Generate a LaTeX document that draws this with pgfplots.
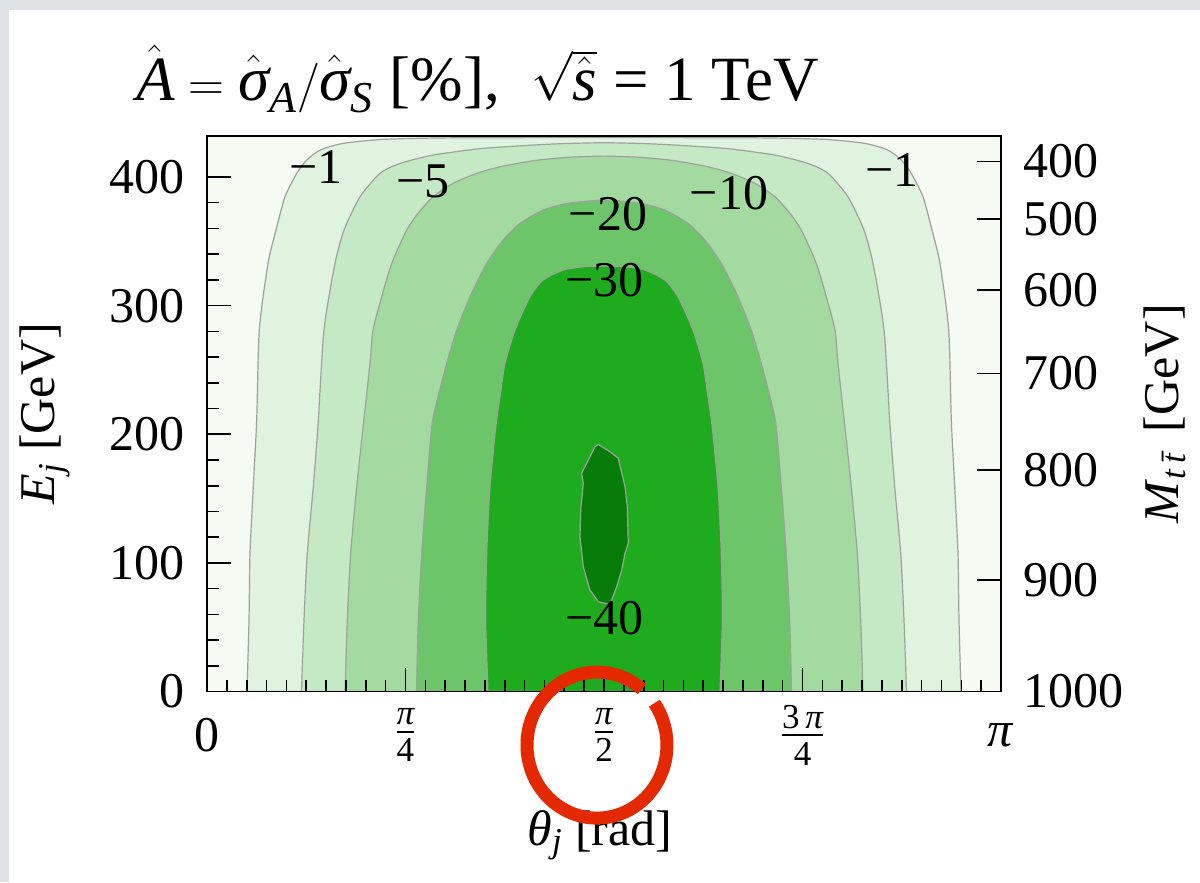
\documentclass[border=0pt]{standalone}
\usepackage{amsmath}
\usepackage{fontspec}
\setmainfont{Liberation Serif}
\usepackage{pgfplots}
\pgfplotsset{compat=1.18}

\definecolor{bgpale}{RGB}{245,250,243}
\definecolor{lvA}{RGB}{224,243,223}
\definecolor{lvB}{RGB}{198,233,197}
\definecolor{lvC}{RGB}{163,218,160}
\definecolor{lvD}{RGB}{108,197,104}
\definecolor{lvE}{RGB}{30,172,30}
\definecolor{lvF}{RGB}{8,124,8}
\definecolor{isoline}{RGB}{160,160,160}
\definecolor{pagegray}{RGB}{223,226,230}
\definecolor{markred}{RGB}{228,40,0}

\pgfplotsset{
  contour/.style={draw=isoline, line width=0.6pt, smooth, tension=0.4},
}

\begin{document}
\fontsize{25}{30}\selectfont
\begin{tikzpicture}
\useasboundingbox (-103.5pt,-95.25pt) rectangle (496.5pt,345.8pt);
\fill[pagegray] (-103.5pt,-95.25pt) rectangle (496.5pt,345.8pt);
\fill[white] (-99pt,-95.25pt) rectangle (496.5pt,340.8pt);

% main axis: E_j versus theta_j, filled contours of the asymmetry
\begin{axis}[
  at={(0,0)}, anchor=south west, scale only axis,
  width=397pt, height=277.9pt,
  xmin=0, xmax=3.14159, ymin=0, ymax=432,
  axis background/.style={fill=bgpale},
  axis on top,
  axis line style={line width=0.8pt},
  every tick/.style={line width=0.8pt, black},
  tick align=inside,
  major tick length=12pt, minor tick length=6pt,
  xtick={0,0.785398,1.570796,2.356194,3.141593},
  xticklabels={0,
    $\frac{\text{\itshape π}}{\text{4}}$,
    $\frac{\text{\itshape π}}{\text{2}}$,
    $\frac{\text{3\,\itshape π}}{\text{4}}$,
    \textit{π}},
  minor xtick={0.0785,0.1571,0.2356,0.3142,0.3927,0.4712,0.5498,0.6283,0.7069,
    0.8639,0.9425,1.0210,1.0996,1.1781,1.2566,1.3352,1.4137,1.4923,
    1.6493,1.7279,1.8064,1.8850,1.9635,2.0420,2.1206,2.1991,2.2777,
    2.4347,2.5133,2.5918,2.6704,2.7489,2.8274,2.9060,2.9845,3.0631},
  xtick pos=bottom,
  ytick={0,100,200,300,400},
  minor y tick num=4,
  ytick pos=left,
  xticklabel style={anchor=center, yshift=-21.75pt},
  yticklabel style={xshift=-2.5pt},
  /pgf/number format/assume math mode=true,
]
% A = -1
\addplot[contour, fill=lvA] coordinates {
 (0.1583,0) (0.1662,55.6) (0.1701,107.4) (0.1832,159.2) (0.1966,211.0)
 (0.2069,281.0) (0.2414,332.8) (0.2730,358.7) (0.3086,384.6) (0.3549,402.8)
 (0.3945,413.1) (0.4471,420.9) (0.5381,426.1) (0.6964,429.2) (0.9614,430.4)
 (1.5708,430.6)
 (2.1802,430.4) (2.4452,429.2) (2.6035,426.1) (2.6945,420.9) (2.7471,413.1)
 (2.7867,402.8) (2.8330,384.6) (2.8686,358.7) (2.9002,332.8) (2.9347,281.0)
 (2.9450,211.0) (2.9584,159.2) (2.9715,107.4) (2.9754,55.6) (2.9833,0)
} \closedcycle;
% A = -5
\addplot[contour, fill=lvB] coordinates {
 (0.3739,0) (0.3838,55.6) (0.3968,107.4) (0.4206,159.2) (0.4392,207.1)
 (0.4629,281.0) (0.5064,332.8) (0.5421,358.7) (0.6054,384.6) (0.6845,402.8)
 (0.7636,410.5) (0.8942,417.0) (1.0920,422.2) (1.3571,425.5) (1.5708,426.6)
 (1.7845,425.5) (2.0496,422.2) (2.2474,417.0) (2.3780,410.5) (2.4571,402.8)
 (2.5362,384.6) (2.5995,358.7) (2.6352,332.8) (2.6787,281.0) (2.7024,207.1)
 (2.7210,159.2) (2.7448,107.4) (2.7578,55.6) (2.7677,0)
} \closedcycle;
% A = -10
\addplot[contour, fill=lvC] coordinates {
 (0.5460,0) (0.5551,55.6) (0.5686,107.4) (0.5923,159.2) (0.6184,207.1)
 (0.6449,255.1) (0.6568,281.0) (0.6912,306.9) (0.7308,332.8) (0.7901,358.7)
 (0.8348,371.7) (0.8942,384.6) (0.9733,395.0) (1.0671,402.8) (1.1593,407.9)
 (1.2898,412.6) (1.4232,415.2) (1.5708,416.2)
 (1.7184,415.2) (1.8518,412.6) (1.9823,407.9) (2.0745,402.8) (2.1683,395.0)
 (2.2474,384.6) (2.3068,371.7) (2.3515,358.7) (2.4108,332.8) (2.4504,306.9)
 (2.4848,281.0) (2.4967,255.1) (2.5232,207.1) (2.5493,159.2) (2.5730,107.4)
 (2.5865,55.6) (2.5956,0)
} \closedcycle;
% A = -20
\addplot[contour, fill=lvD] coordinates {
 (0.8289,0) (0.8360,55.6) (0.8495,107.4) (0.8693,159.2) (0.8902,207.1)
 (0.9140,229.1) (0.9484,255.1) (0.9880,281.0) (1.0406,306.9) (1.1067,332.8)
 (1.1712,350.9) (1.2384,363.9) (1.3294,374.2) (1.4232,379.4) (1.5708,382.0)
 (1.7184,379.4) (1.8122,374.2) (1.9032,363.9) (1.9704,350.9) (2.0349,332.8)
 (2.1010,306.9) (2.1536,281.0) (2.1932,255.1) (2.2276,229.1) (2.2514,207.1)
 (2.2723,159.2) (2.2921,107.4) (2.3056,55.6) (2.3127,0)
} \closedcycle;
% A = -30
\addplot[contour, fill=lvE] coordinates {
 (1.1118,0) (1.1027,55.6) (1.1067,107.4) (1.1197,159.2) (1.1435,207.1)
 (1.1593,229.1) (1.1791,255.1) (1.2186,281.0) (1.2780,306.9) (1.3294,319.8)
 (1.4085,327.6) (1.4877,330.2) (1.5708,330.7)
 (1.6539,330.2) (1.7331,327.6) (1.8122,319.8) (1.8636,306.9) (1.9230,281.0)
 (1.9625,255.1) (1.9823,229.1) (1.9981,207.1) (2.0219,159.2) (2.0349,107.4)
 (2.0389,55.6) (2.0298,0)
} \closedcycle;
% A = -40 island
\addplot[draw=isoline, line width=0.6pt, fill=lvF] coordinates {
 (1.5482,192.1) (1.5945,186.4) (1.6273,181.3) (1.6539,159.2) (1.6630,143.6)
 (1.6669,115.2) (1.6539,107.6) (1.6408,94.4) (1.6210,81.5) (1.6012,71.1)
 (1.5878,68.0) (1.5482,69.8) (1.5154,78.9) (1.4889,97.0) (1.4758,120.3)
 (1.4786,141.1) (1.4889,161.8) (1.4825,169.8) (1.5154,182.5) (1.5352,190.3)
} -- cycle;

% contour labels
\node at (axis cs:0.4313,407.7) {−1};
\node at (axis cs:0.8546,396.8) {−5};
\node at (axis cs:2.0653,387.1) {−10};
\node at (axis cs:2.7103,405.3) {−1};
\node at (axis cs:1.5865,371.5) {−20};
\node at (axis cs:1.5727,319.8) {−30};
\node at (axis cs:1.5727,57.1) {−40};
\end{axis}

% right scale: invariant mass of the top pair
\begin{axis}[
  at={(0,0)}, anchor=south west, scale only axis,
  width=397pt, height=277.9pt,
  xmin=0, xmax=3.14159, ymin=0, ymax=432,
  axis x line=none,
  axis y line*=right,
  axis line style={line width=0.8pt, -},
  every tick/.style={line width=0.8pt, black},
  tick align=inside,
  major tick length=12pt,
  ytick={412.1,367.3,312.0,247.3,172.3,86.7,0},
  yticklabels={400,500,600,700,800,900,1000},
  yticklabel style={xshift=2.5pt},
]
\end{axis}

% titles and axis labels
\node[anchor=base west, font=\fontsize{31.5}{38}\selectfont] at (-44pt,295.75pt)
  {$\hat{\mathit{A}} = \hat{\text{\itshape σ}}_{\mathit{A}}/\hat{\text{\itshape σ}}_{\mathit{S}}$ [\%],\ \ $\sqrt{\hat{\mathit{s}}}$ = 1 TeV};
\node at (196.5pt,-71.75pt) {\textit{θ}\textsubscript{\textit{j}} [rad]};
\node[rotate=90] at (-81pt,138.9pt) {\textit{E}\textsubscript{\textit{j}} [GeV]};
\node[rotate=90] at (479pt,138.9pt) {\textit{M}\textsubscript{\textit{t\,\=t}} [GeV]};

% hand-drawn highlight round the pi/2 label
\draw[markred, line width=6.5pt]
  ([shift={(195pt,-26.75pt)}]50:35pt and 36.5pt)
  arc[start angle=50, end angle=395, x radius=35pt, y radius=36.5pt];
\end{tikzpicture}
\end{document}
